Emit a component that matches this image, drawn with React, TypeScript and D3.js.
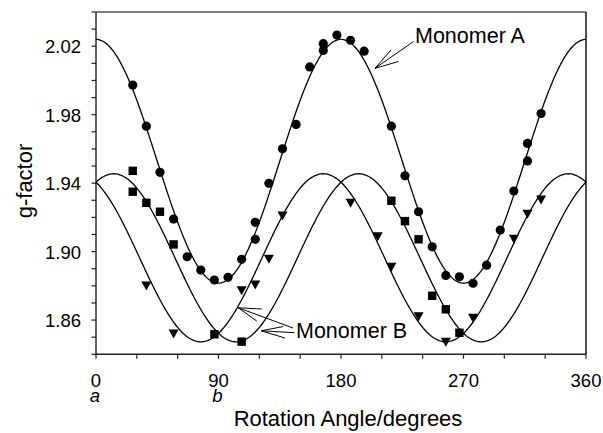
import React from "react";
import * as d3 from "d3";

// Monomer A (circles)
const circleAngles = [27, 37, 47, 57, 67, 77, 87, 97, 107, 117, 117, 127, 137, 147, 157, 167, 167, 177, 187, 197, 217, 227, 237, 247, 257, 267, 277, 287, 297, 307, 317, 317, 327];
const circleG = [1.9973, 1.9733, 1.9463, 1.919, 1.897, 1.8892, 1.8834, 1.885, 1.8955, 1.9072, 1.9171, 1.9399, 1.9601, 1.9743, 2.0079, 2.0215, 2.0175, 2.0265, 2.0235, 2.0171, 1.9733, 1.9443, 1.9233, 1.9028, 1.8861, 1.8853, 1.8815, 1.8921, 1.9126, 1.9354, 1.953, 1.9632, 1.9807];

// Monomer B (squares)
const squareAngles = [27, 27, 37, 47, 57, 87, 107, 217, 227, 237, 247, 257, 267];
const squareG = [1.9472, 1.935, 1.9285, 1.9233, 1.9042, 1.8517, 1.8474, 1.9297, 1.9178, 1.9072, 1.8742, 1.8663, 1.8526];

// Monomer B (down triangles)
const triAngles = [37, 57, 107, 117, 127, 137, 187, 207, 217, 237, 257, 277, 307, 317, 327];
const triG = [1.8799, 1.8519, 1.8771, 1.8805, 1.8955, 1.9208, 1.9282, 1.9087, 1.8908, 1.862, 1.847, 1.861, 1.9072, 1.9218, 1.9301];

// Fitted curves g = g0 + g1 * cos(2(θ - θ0))
const fitNames = ["A", "B1", "B2"];
const fitG0 = [1.9528, 1.8964, 1.8964];
const fitG1 = [0.0712, 0.0491, 0.0491];
const fitPhase = [0, 13, -13];

const xTickLabels = [0, 90, 180, 270, 360];
const xSubLabels = ["a", "b", "", "", ""];
const yTickLabels = [1.86, 1.9, 1.94, 1.98, 2.02];

const W = 603, H = 433;
const L = 96, R = 586, T = 12, B = 354.3;
const FONT = "'Liberation Sans', Arial, sans-serif";

export default function App() {
  const x = d3.scaleLinear().domain([0, 360]).range([L, R]);
  const y = d3.scaleLinear().domain([1.84, 2.04]).range([B, T]);

  const thetas = d3.range(0, 360.5, 1);
  const line = d3.line<number[]>().x(d => x(d[0])).y(d => y(d[1]));
  const curves = fitNames.map((_, i) =>
    line(thetas.map(t => [t, fitG0[i] + fitG1[i] * Math.cos((2 * (t - fitPhase[i]) * Math.PI) / 180)]))
  );

  const xTicks = d3.range(0, 361, 30);
  const yTicks = d3.range(0, 21).map(i => 1.84 + i * 0.01);

  const arrow = (tip: [number, number], end: [number, number], b1: [number, number], b2: [number, number], key: string) => (
    <g key={key} stroke="#000" strokeWidth={1} fill="none">
      <line x1={tip[0]} y1={tip[1]} x2={end[0]} y2={end[1]} />
      <line x1={tip[0]} y1={tip[1]} x2={b1[0]} y2={b1[1]} />
      <line x1={tip[0]} y1={tip[1]} x2={b2[0]} y2={b2[1]} />
    </g>
  );

  const tw = 5, th = 4.5;
  return (
    <svg width={W} height={H} style={{ position: "absolute", left: 0, top: 0, background: "#fff" }} fontFamily={FONT}>
      {/* frame */}
      <line x1={L} y1={T} x2={R} y2={T} stroke="#000" strokeWidth={1.2} />
      <line x1={R} y1={T} x2={R} y2={B} stroke="#000" strokeWidth={1.4} />
      <line x1={L} y1={T} x2={L} y2={B} stroke="#222" strokeWidth={1.4} />
      <line x1={L} y1={B} x2={R} y2={B} stroke="#222" strokeWidth={1.4} />
      {yTicks.map((v, i) => (
        <line key={"yt" + i} x1={L - 4.5} x2={L} y1={y(v)} y2={y(v)} stroke="#222" strokeWidth={1.2} />
      ))}
      {xTicks.map((v, i) => (
        <line key={"xt" + i} x1={x(v)} x2={x(v)} y1={B} y2={B + 4.5} stroke="#222" strokeWidth={1.2} />
      ))}
      {yTickLabels.map((v, i) => (
        <text key={"yl" + i} x={L - 15} y={y(v) + 7} textAnchor="end" fontSize={18.5}>{v.toFixed(2)}</text>
      ))}
      {xTickLabels.map((v, i) => (
        <text key={"xl" + i} x={x(v)} y={386.5} textAnchor="middle" fontSize={18.5}>
          <tspan x={x(v)}>{v}</tspan>
          {xSubLabels[i] ? (
            <tspan x={x(v) - 1} dy={15} fontStyle="italic">{xSubLabels[i]}</tspan>
          ) : null}
        </text>
      ))}
      <text x={(L + R) / 2 + 7} y={426} textAnchor="middle" fontSize={22}>Rotation Angle/degrees</text>
      <text transform={`translate(32,181) rotate(-90)`} textAnchor="middle" fontSize={22}>g-factor</text>

      {/* curves */}
      {curves.map((d, i) => (
        <path key={"c" + i} d={d || ""} fill="none" stroke="#000" strokeWidth={1.3} />
      ))}

      {/* markers */}
      {circleAngles.map((a, i) => (
        <circle key={"ci" + i} cx={x(a)} cy={y(circleG[i])} r={4.6} fill="#000" />
      ))}
      {squareAngles.map((a, i) => (
        <rect key={"sq" + i} x={x(a) - 4.2} y={y(squareG[i]) - 4.2} width={8.4} height={8.4} fill="#000" />
      ))}
      {triAngles.map((a, i) => {
        const cx = x(a), cy = y(triG[i]);
        return <path key={"tr" + i} d={`M${cx - tw},${cy - th}L${cx + tw},${cy - th}L${cx},${cy + th}Z`} fill="#000" />;
      })}

      {/* annotations */}
      {arrow([375, 68.3], [413.5, 41.5], [391, 50], [398.5, 61.5], "aA")}
      <text x={415} y={43.3} fontSize={21.5}>Monomer A</text>
      {arrow([238.3, 307.8], [293, 328], [261.7, 309], [256.7, 321], "aB1")}
      {arrow([261.3, 330.8], [294.5, 332.7], [283.3, 326.5], [285, 338], "aB2")}
      <text x={296} y={338.3} fontSize={21.5}>Monomer B</text>
    </svg>
  );
}
